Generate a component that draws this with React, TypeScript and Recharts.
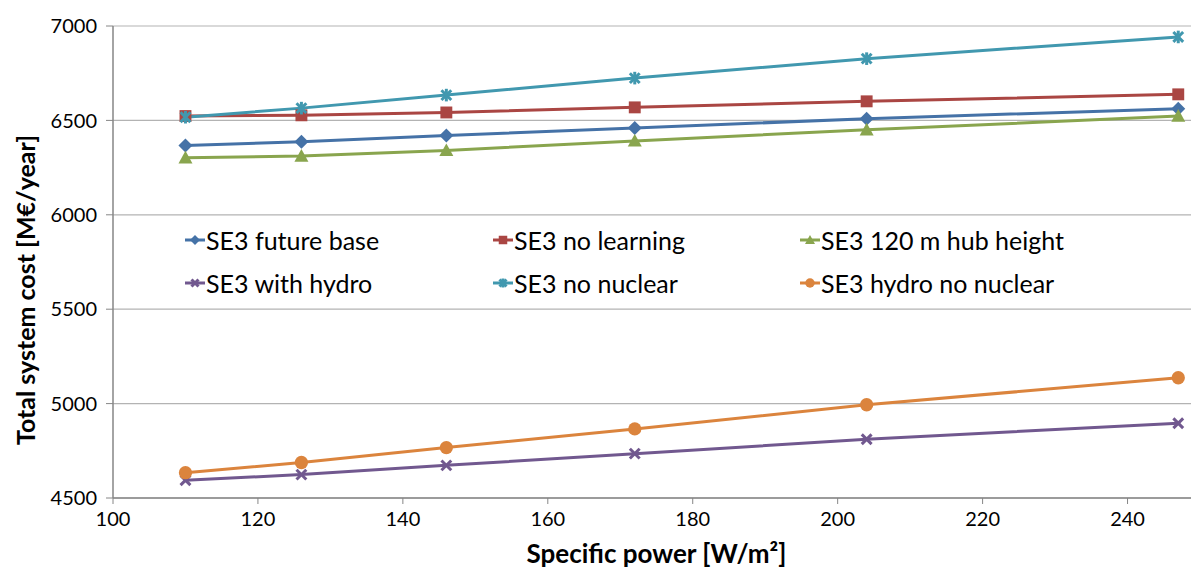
import React from 'react'
import { LineChart, Line, XAxis, YAxis, CartesianGrid, Legend } from 'recharts'

// specific power of the turbine [W/m²]
const specificPower = [110, 126, 146, 172, 204, 247]

// total system cost [M€/year] per scenario
const futureBase = [6367, 6387, 6420, 6460, 6509, 6562]
const noLearning = [6523, 6527, 6542, 6569, 6601, 6638]
const hubHeight120 = [6302, 6311, 6341, 6391, 6450, 6523]
const withHydro = [4594, 4624, 4673, 4735, 4811, 4896]
const noNuclear = [6517, 6565, 6634, 6724, 6827, 6942]
const hydroNoNuclear = [4634, 4688, 4767, 4866, 4994, 5137]

const xTicks = [100, 120, 140, 160, 180, 200, 220, 240]
const yTicks = [4500, 5000, 5500, 6000, 6500, 7000]

type Shape = 'diamond' | 'square' | 'triangle' | 'cross' | 'star' | 'circle'

interface SeriesConfig {
  key: string
  name: string
  values: number[]
  color: string
  shape: Shape
}

const series: SeriesConfig[] = [
  { key: 'futureBase', name: 'SE3 future base', values: futureBase, color: '#4572A7', shape: 'diamond' },
  { key: 'noLearning', name: 'SE3 no learning', values: noLearning, color: '#AA4643', shape: 'square' },
  { key: 'hubHeight120', name: 'SE3 120 m hub height', values: hubHeight120, color: '#89A54E', shape: 'triangle' },
  { key: 'withHydro', name: 'SE3 with hydro', values: withHydro, color: '#71588F', shape: 'cross' },
  { key: 'noNuclear', name: 'SE3 no nuclear', values: noNuclear, color: '#4198AF', shape: 'star' },
  { key: 'hydroNoNuclear', name: 'SE3 hydro no nuclear', values: hydroNoNuclear, color: '#DB843D', shape: 'circle' },
]

const chartData = specificPower.map((x, i) => {
  const row: { [key: string]: number } = { x }
  series.forEach((s) => {
    row[s.key] = s.values[i]
  })
  return row
})

const FONT = 'Lato, "Open Sans", sans-serif'
const AXIS_GREY = '#868686'

const Marker = ({ shape, cx, cy, color, r }: { shape: Shape; cx: number; cy: number; color: string; r: number }) => {
  switch (shape) {
    case 'diamond':
      return <polygon points={`${cx},${cy - r} ${cx + r},${cy} ${cx},${cy + r} ${cx - r},${cy}`} fill={color} />
    case 'square':
      return <rect x={cx - r * 0.85} y={cy - r * 0.85} width={r * 1.7} height={r * 1.7} fill={color} />
    case 'triangle':
      return <polygon points={`${cx},${cy - r} ${cx + r},${cy + r * 0.8} ${cx - r},${cy + r * 0.8}`} fill={color} />
    case 'cross': {
      const d = r * 0.7
      return (
        <g stroke={color} strokeWidth={3}>
          <line x1={cx - d} y1={cy - d} x2={cx + d} y2={cy + d} />
          <line x1={cx - d} y1={cy + d} x2={cx + d} y2={cy - d} />
        </g>
      )
    }
    case 'star': {
      const d = r * 0.7
      return (
        <g stroke={color} strokeWidth={3}>
          <line x1={cx - d} y1={cy - d} x2={cx + d} y2={cy + d} />
          <line x1={cx - d} y1={cy + d} x2={cx + d} y2={cy - d} />
          <line x1={cx} y1={cy - r * 0.9} x2={cx} y2={cy + r * 0.9} />
        </g>
      )
    }
    default:
      return <circle cx={cx} cy={cy} r={r * 0.95} fill={color} />
  }
}

const renderLegend = () => (
  <div
    style={{
      display: 'grid',
      gridTemplateColumns: '308px 307px 330px',
      rowGap: 14,
      fontFamily: FONT,
      fontSize: 25,
      color: '#000',
    }}
  >
    {series.map((s) => (
      <div key={s.key} style={{ display: 'flex', alignItems: 'center', height: 29, whiteSpace: 'nowrap' }}>
        <svg width={20} height={14} style={{ marginRight: 1 }}>
          <line x1={0} y1={7} x2={20} y2={7} stroke={s.color} strokeWidth={3} />
          <Marker shape={s.shape} cx={10} cy={7} color={s.color} r={5} />
        </svg>
        <span>{s.name}</span>
      </div>
    ))}
  </div>
)

const YTitle = (props: any) => {
  const vb = props.viewBox || { x: 0, y: 26, width: 113, height: 472 }
  const x = vb.x + 35
  const y = vb.y + vb.height / 2 + 28
  return (
    <text
      x={x}
      y={y}
      transform={`rotate(-90, ${x}, ${y})`}
      textAnchor="middle"
      fontFamily={FONT}
      fontWeight="bold"
      fontSize={25}
      fill="#000"
    >
      Total system cost [M€/year]
    </text>
  )
}

const XTitle = (props: any) => {
  const vb = props.viewBox || { x: 113, y: 498, width: 1087, height: 71 }
  return (
    <text
      x={vb.x + vb.width / 2}
      y={vb.y + vb.height - 6}
      textAnchor="middle"
      fontFamily={FONT}
      fontWeight="bold"
      fontSize={26}
      fill="#000"
    >
      Specific power [W/m²]
    </text>
  )
}

const App: React.FC = () => {
  return (
    <div style={{ position: 'absolute', left: 0, top: 0, width: 1191, height: 569, overflow: 'hidden', background: '#fff' }}>
      <LineChart
        width={1210}
        height={569}
        data={chartData}
        margin={{ top: 26, right: 10, bottom: 0, left: 0 }}
        style={{ fontFamily: FONT }}
      >
        <CartesianGrid vertical={false} stroke="#b3b3b3" strokeWidth={1.2} />
        <XAxis
          dataKey="x"
          type="number"
          domain={[100, 250]}
          ticks={xTicks}
          height={71}
          tickSize={6}
          tickMargin={8}
          axisLine={{ stroke: AXIS_GREY, strokeWidth: 1.5 }}
          tickLine={{ stroke: AXIS_GREY }}
          tick={{ fill: '#000', fontSize: 20, fontFamily: FONT }}
          label={<XTitle />}
        />
        <YAxis
          type="number"
          domain={[4500, 7000]}
          ticks={yTicks}
          width={113}
          tickSize={7}
          tickMargin={9}
          axisLine={{ stroke: AXIS_GREY, strokeWidth: 1.5 }}
          tickLine={{ stroke: AXIS_GREY }}
          tick={{ fill: '#000', fontSize: 20, fontFamily: FONT }}
          label={<YTitle />}
        />
        <Legend
          layout="vertical"
          verticalAlign="middle"
          align="center"
          content={renderLegend}
          wrapperStyle={{ left: 185, top: 225, width: 960 }}
        />
        {series.map((s) => (
          <Line
            key={s.key}
            dataKey={s.key}
            name={s.name}
            type="linear"
            stroke={s.color}
            strokeWidth={3}
            isAnimationActive={false}
            activeDot={false}
            dot={(p: any) => (
              <Marker key={`${s.key}-${p.index}`} shape={s.shape} cx={p.cx} cy={p.cy} color={s.color} r={7} />
            )}
          />
        ))}
      </LineChart>
    </div>
  )
}

export default App
